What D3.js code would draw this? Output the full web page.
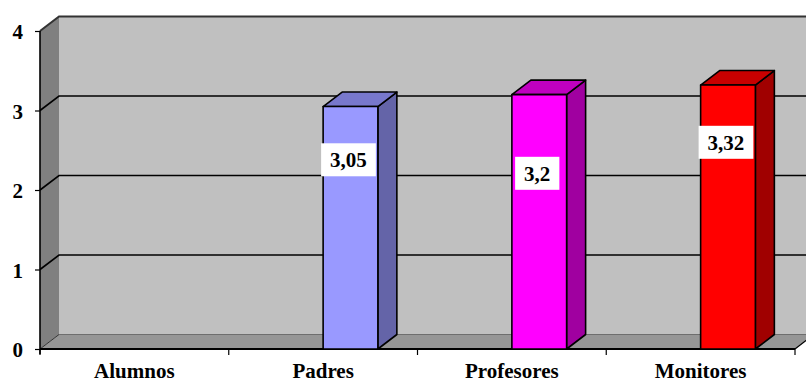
<!DOCTYPE html>
<html>
<head>
<meta charset="utf-8">
<script src="https://cdn.jsdelivr.net/npm/d3@7"></script>
<style>
  html, body { margin: 0; padding: 0; background: #ffffff; }
  svg { display: block; }
  text { font-family: "Liberation Serif", "Times New Roman", serif; font-weight: bold; }
</style>
</head>
<body>
<svg id="chart" width="806" height="383"></svg>
<script>
// Data
const categories = ["Alumnos", "Padres", "Profesores", "Monitores"];
const values = [null, 3.05, 3.2, 3.32];
const valueLabels = ["", "3,05", "3,2", "3,32"];
const yTicks = [0, 1, 2, 3, 4];

// Colours per bar: front face, top, side
const frontColors = ["#9999ff", "#9999ff", "#ff00ff", "#ff0000"];
const topColors = ["#7878cc", "#7878cc", "#c000c0", "#c80000"];
const sideColors = ["#6464a8", "#6464a8", "#a000a0", "#a00000"];

// Vertical placement of each value label box (in axis units)
const labelAt = [0, 2.38, 2.21, 2.60];

const svg = d3.select("#chart");

// 3-D depth offset
const dx = 19, dy = -14.5;

const x = d3.scaleBand().domain(categories).range([40, 795]).padding(0);
const y = d3.scaleLinear().domain([0, 4]).range([349, 31]);
const bw = x.bandwidth();
const xLeft = x.range()[0], xRight = x.range()[1];

// Walls and floor
svg.append("polygon")
  .attr("points", [[xLeft, y(4)], [xLeft + dx, y(4) + dy], [xLeft + dx, y(0) + dy], [xLeft, y(0)]].join(" "))
  .attr("fill", "#808080");
svg.append("rect")
  .attr("x", xLeft + dx).attr("y", y(4) + dy)
  .attr("width", xRight + dx - (xLeft + dx) + 2).attr("height", y(0) - y(4))
  .attr("fill", "#c0c0c0");
svg.append("polygon")
  .attr("points", [[xLeft, y(0)], [xLeft + dx, y(0) + dy], [xRight + dx, y(0) + dy], [xRight, y(0)]].join(" "))
  .attr("fill", "#969696");
svg.append("path")
  .attr("d", `M${xLeft + dx},${y(0) + dy}H${xRight + dx}`)
  .attr("stroke", "#6e6e6e").attr("stroke-width", 1).attr("fill", "none");
svg.append("path")
  .attr("d", `M${xRight},${y(0)}L${xRight + dx},${y(0) + dy}`)
  .attr("stroke", "#000").attr("stroke-width", 1.2).attr("fill", "none");

// Gridlines on side and back walls
svg.append("g").selectAll("path")
  .data(yTicks.filter(t => t > 0))
  .join("path")
  .attr("d", t => `M${xLeft},${y(t)}L${xLeft + dx},${y(t) + dy}H${xRight + dx + 5}`)
  .attr("fill", "none")
  .attr("stroke", t => t === 4 ? "#333" : "#000")
  .attr("stroke-width", t => t === 4 ? 2 : 1.6);

// Floor front-left diagonal
svg.append("path")
  .attr("d", `M${xLeft},${y(0)}L${xLeft + dx},${y(0) + dy}`)
  .attr("stroke", "#333").attr("stroke-width", 1).attr("fill", "none");

// Value axis
const yAxis = svg.append("g")
  .attr("transform", `translate(${xLeft},0)`)
  .call(d3.axisLeft(y).tickValues(yTicks).tickFormat(d3.format("d")).tickSize(5).tickPadding(12));
yAxis.select(".domain").remove();
yAxis.selectAll(".tick line").attr("stroke", "#000").attr("stroke-width", 1.2);
yAxis.selectAll(".tick text")
  .attr("font-size", 21).attr("fill", "#000").attr("dy", "0.38em")
  .style("font-family", "'Liberation Serif', 'Times New Roman', serif").style("font-weight", "bold");
svg.append("path")
  .attr("d", `M${xLeft},${y(4)}V${y(0) + 5}`)
  .attr("stroke", "#000").attr("stroke-width", 1.6).attr("fill", "none");

// Category axis: line, boundary ticks and labels
svg.append("path")
  .attr("d", `M${xLeft},${y(0)}H${xRight}`)
  .attr("stroke", "#000").attr("stroke-width", 2).attr("fill", "none");
const bounds = [xLeft].concat(categories.map(c => x(c) + bw));
svg.append("g").selectAll("line")
  .data(bounds)
  .join("line")
  .attr("x1", d => d).attr("x2", d => d)
  .attr("y1", y(0)).attr("y2", y(0) + 6)
  .attr("stroke", "#000").attr("stroke-width", 1.2);
svg.append("g").selectAll("text")
  .data(categories)
  .join("text")
  .attr("x", c => x(c) + bw / 2)
  .attr("y", 378)
  .attr("text-anchor", "middle")
  .attr("font-size", 21)
  .attr("fill", "#000")
  .text(c => c);

// Bars
const barW = bw * 0.29;
const bars = categories.map((c, i) => ({ c, i, v: values[i] })).filter(d => d.v != null);
const bg = svg.append("g").attr("stroke", "#000").attr("stroke-width", 1.6).attr("stroke-linejoin", "round");
bars.forEach(d => {
  const x0 = x(d.c) + bw / 2, x1 = x0 + barW;
  const yt = y(d.v), yb = y(0);
  bg.append("polygon")
    .attr("points", [[x1, yt], [x1 + dx, yt + dy], [x1 + dx, yb + dy], [x1, yb]].join(" "))
    .attr("fill", sideColors[d.i]);
  bg.append("polygon")
    .attr("points", [[x0, yt], [x0 + dx, yt + dy], [x1 + dx, yt + dy], [x1, yt]].join(" "))
    .attr("fill", topColors[d.i]);
  bg.append("rect")
    .attr("x", x0).attr("y", yt).attr("width", barW).attr("height", yb - yt)
    .attr("fill", frontColors[d.i]);
});

// Value labels in white boxes
const lg = svg.append("g");
bars.forEach(d => {
  const cx = x(d.c) + bw / 2 + barW / 2 - 2;
  const cy = y(labelAt[d.i]);
  const t = lg.append("text")
    .attr("x", cx).attr("y", cy)
    .attr("text-anchor", "middle").attr("dy", "0.35em")
    .attr("font-size", 21).attr("fill", "#000")
    .text(valueLabels[d.i]);
  const bb = t.node().getBBox();
  lg.insert("rect", "text")
    .attr("x", cx - (bb.width + 18) / 2).attr("y", cy - 16.5)
    .attr("width", bb.width + 18).attr("height", 33)
    .attr("fill", "#fff");
});
</script>
</body>
</html>
